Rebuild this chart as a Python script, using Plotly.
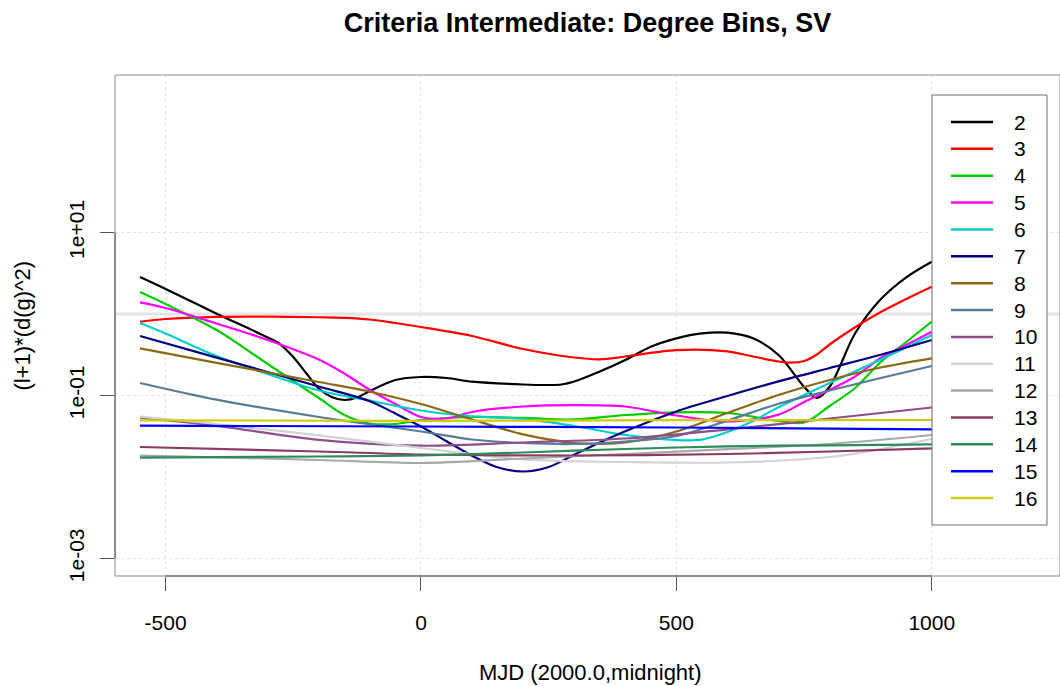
import plotly.graph_objects as go

# ---------------- text ----------------
TITLE = "Criteria Intermediate: Degree Bins, SV"
X_TITLE = "MJD (2000.0,midnight)"
Y_TITLE = "(l+1)*(d(g)^2)"

# ---------------- data ----------------
degrees = ["2", "3", "4", "5", "6", "7", "8", "9", "10", "11", "12", "13", "14", "15", "16"]
colors = ["#000000", "#FF0000", "#00CD00", "#FF00FF", "#00CDCD", "#000080", "#8B6914",
          "#587C93", "#8E4E8E", "#D3D3D3", "#A9A9A9", "#8B3A62", "#2E8B57", "#0000FF", "#CDCD00"]

x_2 = [-550, -500, -400, -300, -275, -250, -225, -200, -175, -150, -125, -100, -50, 0, 50, 100,
       200, 250, 275, 300, 350, 400, 450, 500, 550, 600, 650, 700, 750, 775, 800, 850, 900, 950,
       1000]
y_2 = [2.84, 2.03, 1.01, 0.515, 0.4224, 0.2968, 0.1888, 0.1219, 0.0958, 0.0881, 0.0945, 0.1136,
       0.155, 0.1687, 0.164, 0.1477, 0.1365, 0.1345, 0.1365, 0.1485, 0.197, 0.273, 0.397, 0.503,
       0.580, 0.590, 0.503, 0.314, 0.128, 0.0932, 0.128, 0.580, 1.514, 2.82, 4.38]

x_3 = [-550, -500, -400, -300, -200, -150, -100, -50, 0, 100, 200, 300, 350, 400, 500, 600, 650,
       700, 725, 750, 775, 800, 850, 900, 950, 1000]
y_3 = [0.804, 0.868, 0.924, 0.929, 0.913, 0.898, 0.856, 0.7755, 0.693, 0.537, 0.372, 0.2925,
       0.278, 0.301, 0.360, 0.3485, 0.301, 0.2614, 0.2527, 0.265, 0.3185, 0.4224, 0.687, 1.058,
       1.531, 2.163]

x_4 = [-550, -500, -400, -300, -200, -150, -100, -50, 0, 100, 200, 300, 400, 500, 600, 700, 750,
       800, 850, 900, 950, 1000]
y_4 = [1.862, 1.327, 0.636, 0.2434, 0.0932, 0.0576, 0.0453, 0.0447, 0.0500, 0.0545, 0.0530,
       0.0508, 0.0576, 0.0622, 0.0610, 0.0489, 0.0466, 0.0743, 0.1236, 0.2576, 0.4533, 0.804]

x_5 = [-550, -500, -400, -300, -200, -150, -100, -50, 0, 50, 100, 200, 300, 400, 500, 600, 700,
       750, 800, 850, 900, 950, 1000]
y_5 = [1.392, 1.185, 0.764, 0.480, 0.2765, 0.1862, 0.1168, 0.0786, 0.0545, 0.0522, 0.0627,
       0.0733, 0.0764, 0.0733, 0.0568, 0.0480, 0.0583, 0.0832, 0.1168, 0.1710, 0.2884, 0.4166,
       0.6066]

x_6 = [-550, -500, -400, -300, -200, -100, 0, 100, 200, 300, 400, 500, 550, 600, 650, 700, 800,
       900, 1000]
y_6 = [0.7755, 0.5764, 0.3052, 0.1836, 0.1151, 0.0864, 0.0655, 0.0556, 0.0516, 0.0422, 0.0328,
       0.0284, 0.0288, 0.0356, 0.0487, 0.0716, 0.1424, 0.2757, 0.5526]

x_7 = [-550, -400, -200, -100, -50, 0, 50, 100, 150, 200, 250, 300, 350, 400, 500, 600, 700, 800,
       900, 1000]
y_7 = [0.537, 0.2917, 0.1289, 0.0849, 0.0600, 0.0417, 0.0275, 0.01826, 0.01315, 0.01168, 0.01327,
       0.01878, 0.0265, 0.0364, 0.0637, 0.0986, 0.149, 0.2175, 0.3167, 0.480]

x_8 = [-550, -400, -200, -100, 0, 100, 200, 300, 350, 400, 500, 600, 700, 800, 900, 1000]
y_8 = [0.3795, 0.2519, 0.1464, 0.1113, 0.0786, 0.0508, 0.0333, 0.02614, 0.02555, 0.0265,
       0.03616, 0.0610, 0.1014, 0.155, 0.2206, 0.286]

x_9 = [-550, -400, -200, 0, 100, 200, 300, 400, 500, 600, 700, 800, 900, 1000]
y_9 = [0.1424, 0.0888, 0.0545, 0.03616, 0.02884, 0.02614, 0.02541, 0.0272, 0.03185, 0.0492,
       0.0793, 0.1151, 0.164, 0.230]

x_10 = [-550, -400, -200, 0, 200, 400, 600, 800, 1000]
y_10 = [0.0534, 0.04248, 0.0286, 0.02421, 0.0265, 0.02968, 0.03826, 0.0522, 0.0712]

x_11 = [-550, -400, -200, 0, 200, 400, 600, 800, 900, 1000]
y_11 = [0.0549, 0.0447, 0.03238, 0.02268, 0.01644, 0.01528, 0.01507, 0.01759, 0.02206, 0.02925]

x_12 = [-550, -400, -200, 0, 200, 400, 600, 800, 1000]
y_12 = [0.01826, 0.01744, 0.01617, 0.01485, 0.01687, 0.01915, 0.02194, 0.02541, 0.03275]

x_13 = [-550, -200, 0, 300, 600, 800, 1000]
y_13 = [0.02334, 0.02056, 0.01888, 0.01836, 0.01915, 0.02056, 0.0225]

x_14 = [-550, -200, 0, 200, 400, 600, 800, 1000]
y_14 = [0.01725, 0.01784, 0.01836, 0.01998, 0.02206, 0.02380, 0.02449, 0.02519]

x_15 = [-550, 0, 500, 1000]
y_15 = [0.0426, 0.04166, 0.0405, 0.03848]

x_16 = [-550, 0, 500, 1000]
y_16 = [0.04962, 0.04893, 0.04977, 0.05004]

x_ticks = [-500, 0, 500, 1000]
x_tick_labels = ["-500", "0", "500", "1000"]
y_ticks = [1e-3, 1e-1, 1e1]
y_tick_labels = ["1e-03", "1e-01", "1e+01"]
ref_level = 1.0

# ---------------- layout constants ----------------
W, H = 1060, 686
ML, MR, MT, MB = 115, 0, 75, 110
X_RANGE = [-599, 1251]
Y_LOG_RANGE = [-3.215, 2.933]
FONT = "Liberation Sans, Arial, Helvetica, sans-serif"

PW = W - ML - MR
PH = H - MT - MB


def xp(px):
    return (px - ML) / PW


def yp(py):
    return (H - MB - py) / PH


def ylog_paper(lv):
    return (lv - Y_LOG_RANGE[0]) / (Y_LOG_RANGE[1] - Y_LOG_RANGE[0])


series_x = [x_2, x_3, x_4, x_5, x_6, x_7, x_8, x_9, x_10, x_11, x_12, x_13, x_14, x_15, x_16]
series_y = [y_2, y_3, y_4, y_5, y_6, y_7, y_8, y_9, y_10, y_11, y_12, y_13, y_14, y_15, y_16]

fig = go.Figure()

# horizontal reference line at 1
fig.add_trace(go.Scatter(x=X_RANGE, y=[ref_level, ref_level], mode="lines",
                         line=dict(color="#E4E4E4", width=3), hoverinfo="skip",
                         showlegend=False))

for name, col, xs, ys in zip(degrees, colors, series_x, series_y):
    fig.add_trace(go.Scatter(x=xs, y=ys, mode="lines", name=name,
                             line=dict(color=col, width=2.2, shape="spline", smoothing=0.9),
                             showlegend=False))

shapes = []
# plot frame
shapes.append(dict(type="rect", xref="paper", yref="paper", x0=0, x1=1, y0=0, y1=1,
                   line=dict(color="#8C8C8C", width=1), layer="above"))
# R-style axis lines spanning first..last tick
shapes.append(dict(type="line", xref="x", yref="paper", x0=x_ticks[0], x1=x_ticks[-1], y0=0, y1=0,
                   line=dict(color="#555555", width=1), layer="above"))
shapes.append(dict(type="line", xref="paper", yref="paper", x0=0, x1=0,
                   y0=ylog_paper(-3), y1=ylog_paper(1),
                   line=dict(color="#555555", width=1), layer="above"))

# manual legend box
LB_X0, LB_X1, LB_Y0, LB_Y1 = 932, 1047, 95, 525
shapes.append(dict(type="rect", xref="paper", yref="paper", x0=xp(LB_X0), x1=xp(LB_X1),
                   y0=yp(LB_Y1), y1=yp(LB_Y0), fillcolor="white",
                   line=dict(color="#6E6E6E", width=1), layer="above"))
annotations = []
ITEM0, STEP = 122, 26.86
for i, (name, col) in enumerate(zip(degrees, colors)):
    yy = yp(ITEM0 + i * STEP)
    shapes.append(dict(type="line", xref="paper", yref="paper", x0=xp(951), x1=xp(993),
                       y0=yy, y1=yy, line=dict(color=col, width=2.5), layer="above"))
    annotations.append(dict(xref="paper", yref="paper", x=xp(1012), y=yy, text=name,
                            showarrow=False, xanchor="left", yanchor="middle",
                            font=dict(family=FONT, size=21, color="black")))

# axis titles as annotations
annotations.append(dict(xref="paper", yref="paper", x=xp(590), y=yp(672), text=X_TITLE,
                        showarrow=False, xanchor="center", yanchor="middle",
                        font=dict(family=FONT, size=22, color="black")))
annotations.append(dict(xref="paper", yref="paper", x=xp(22), y=0.5, text=Y_TITLE,
                        showarrow=False, xanchor="center", yanchor="middle", textangle=-90,
                        font=dict(family=FONT, size=22, color="black")))

fig.update_layout(
    width=W, height=H, autosize=False,
    margin=dict(l=ML, r=MR, t=MT, b=MB),
    paper_bgcolor="white", plot_bgcolor="white",
    showlegend=False,
    title=dict(text="<b>" + TITLE + "</b>", x=0.5, xref="paper", xanchor="center",
               y=1 - 23 / H, yref="container", yanchor="middle",
               font=dict(family=FONT, size=27, color="black")),
    shapes=shapes, annotations=annotations,
    xaxis=dict(range=X_RANGE, tickvals=x_ticks, ticktext=x_tick_labels,
               showgrid=True, gridcolor="#E2E2E2", griddash="dot", gridwidth=1,
               zeroline=False, showline=False, ticks="outside", ticklen=14, tickwidth=1,
               tickcolor="#555555", ticklabelstandoff=14,
               tickfont=dict(family=FONT, size=21, color="black")),
    yaxis=dict(type="log", range=Y_LOG_RANGE, tickvals=y_ticks, ticktext=y_tick_labels,
               tickangle=-90,
               showgrid=True, gridcolor="#E2E2E2", griddash="dot", gridwidth=1,
               zeroline=False, showline=False, ticks="outside", ticklen=14, tickwidth=1,
               tickcolor="#555555", ticklabelstandoff=8,
               tickfont=dict(family=FONT, size=21, color="black")),
)

fig.write_html("out.html")
